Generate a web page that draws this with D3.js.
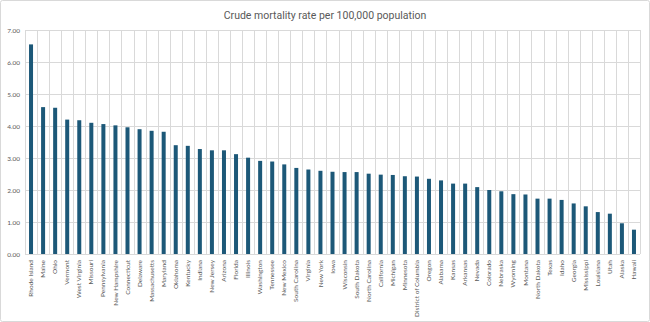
<!DOCTYPE html>
<html>
<head>
<meta charset="utf-8">
<script src="https://cdn.jsdelivr.net/npm/d3@7"></script>
<style>
  html, body { margin: 0; padding: 0; background: #fff; }
  svg { display: block; }
  .grid line { stroke: #d9d9d9; stroke-width: 1; }
  .tick text { fill: #595959; }
</style>
</head>
<body>
<svg id="chart" width="650" height="322"></svg>
<script>
const states = [
  'Rhode Island', 'Maine', 'Ohio', 'Vermont', 'West Virginia', 'Missouri', 'Pennsylvania',
  'New Hampshire', 'Connecticut', 'Delaware', 'Massachusetts', 'Maryland', 'Oklahoma',
  'Kentucky', 'Indiana', 'New Jersey', 'Arizona', 'Florida', 'Illinois', 'Washington',
  'Tennessee', 'New Mexico', 'South Carolina', 'Virginia', 'New York', 'Iowa', 'Wisconsin',
  'South Dakota', 'North Carolina', 'California', 'Michigan', 'Minnesota',
  'District of Columbia', 'Oregon', 'Alabama', 'Kansas', 'Arkansas', 'Nevada', 'Colorado',
  'Nebraska', 'Wyoming', 'Montana', 'North Dakota', 'Texas', 'Idaho', 'Georgia',
  'Mississippi', 'Louisiana', 'Utah', 'Alaska', 'Hawaii'
];
const rates = [
  6.55, 4.59, 4.57, 4.20, 4.18, 4.10, 4.06, 4.02, 3.96, 3.90, 3.85, 3.82, 3.40,
  3.38, 3.28, 3.24, 3.24, 3.12, 3.01, 2.91, 2.89, 2.80, 2.69, 2.64, 2.60, 2.57, 2.56,
  2.56, 2.51, 2.48, 2.47, 2.43, 2.42, 2.35, 2.30, 2.20, 2.20, 2.09, 2.00, 1.96, 1.87,
  1.86, 1.73, 1.73, 1.69, 1.58, 1.49, 1.31, 1.26, 0.96, 0.76
];
const yTicks = [0, 1, 2, 3, 4, 5, 6, 7];
const title = 'Crude mortality rate per 100,000 population';

const W = 650, H = 322;
const margin = { top: 30, right: 10, bottom: 68, left: 25 };
const innerW = 615, innerH = 224;

const svg = d3.select('#chart');

// outer chart border
svg.append('rect')
  .attr('x', 0.5).attr('y', 0.5)
  .attr('width', W - 1).attr('height', H - 1)
  .attr('rx', 2)
  .attr('fill', '#fff').attr('stroke', '#d9d9d9');

svg.append('text')
  .attr('x', W / 2).attr('y', 19)
  .attr('text-anchor', 'middle')
  .attr('font-family', 'Roboto, sans-serif')
  .attr('font-size', 10.5)
  .attr('fill', '#595959')
  .text(title);

const root = svg.append('g').attr('transform', `translate(${margin.left},${margin.top})`);

const x = d3.scaleBand().domain(states).range([0, innerW]).paddingInner(0).paddingOuter(0);
const y = d3.scaleLinear().domain([0, 7]).range([innerH, 0]);

// grid: horizontal
root.append('g').attr('class', 'grid')
  .selectAll('line').data(yTicks).enter().append('line')
  .attr('x1', 0).attr('x2', innerW)
  .attr('y1', (d) => Math.round(y(d)) + 0.5).attr('y2', (d) => Math.round(y(d)) + 0.5);

// grid: vertical category boundaries
const bounds = states.map((s) => x(s)).concat([innerW]);
root.append('g').attr('class', 'grid')
  .selectAll('line').data(bounds).enter().append('line')
  .attr('x1', (d) => Math.round(d) + 0.5).attr('x2', (d) => Math.round(d) + 0.5)
  .attr('y1', 0).attr('y2', innerH);

// bars
const barW = 4;
root.append('g')
  .selectAll('rect').data(states).enter().append('rect')
  .attr('x', (d) => x(d) + x.bandwidth() / 2 - barW / 2)
  .attr('y', (d, i) => y(rates[i]))
  .attr('width', barW)
  .attr('height', (d, i) => innerH - y(rates[i]))
  .attr('fill', '#1c5878');

// y axis
const yAxis = root.append('g')
  .call(d3.axisLeft(y).tickValues(yTicks).tickFormat(d3.format('.2f')).tickSize(0).tickPadding(5));
yAxis.select('.domain').remove();
yAxis.selectAll('text')
  .attr('font-family', 'Lato, sans-serif')
  .attr('font-size', 6.5)
  .attr('fill', '#595959');

// x axis
const xAxis = root.append('g')
  .attr('transform', `translate(0,${innerH})`)
  .call(d3.axisBottom(x).tickSize(0).tickPadding(5));
xAxis.select('.domain').remove();
xAxis.selectAll('text')
  .attr('font-family', 'Lato, sans-serif')
  .attr('font-size', 6.5)
  .attr('fill', '#595959')
  .attr('text-anchor', 'end')
  .attr('dy', '0.32em')
  .attr('transform', 'translate(0,6) rotate(-90)')
  .attr('x', 0).attr('y', 0);
</script>
</body>
</html>
